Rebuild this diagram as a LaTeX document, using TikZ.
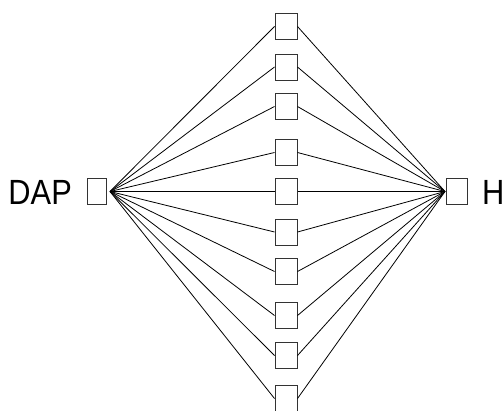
\documentclass[tikz,border=0pt]{standalone}
\usepackage{fontspec}
\setmainfont{Liberation Sans}
\begin{document}
\begin{tikzpicture}[x=1pt,y=-1pt,
  cell/.style={draw=black!80,line width=1pt,fill=white,minimum width=22pt,minimum height=26pt,inner sep=0pt,anchor=center},
  lbl/.style={font=\fontsize{35}{35}\selectfont,inner sep=0pt,xscale=0.88,transform shape},
  link/.style={draw=black,line width=0.8pt}]
\useasboundingbox (0,0) rectangle (502,410);
\clip (0,0) rectangle (502,410);
\node[cell,minimum width=19pt] (dap) at (97,191.5) {};
\node[cell,minimum width=21pt] (h) at (457,191.5) {};
\coordinate (dapp) at (110,191.5);
\coordinate (hp) at (445,191.5);
\node[lbl,anchor=east] (dapl) at (72,192) {DAP};
\node[lbl,anchor=west] (hl) at (482,192) {H};
\foreach \i/\y in {1/26.5,2/67,3/106.5,4/152.5,5/191.5,6/232,7/271.5,8/315.5,9/355.5,10/398.5}{
  \node[cell] (m\i) at (286,\y) {};
  \draw[link] (dapp) -- (m\i.west);
  \draw[link] (m\i.east) -- (hp);
}
\end{tikzpicture}
\end{document}
